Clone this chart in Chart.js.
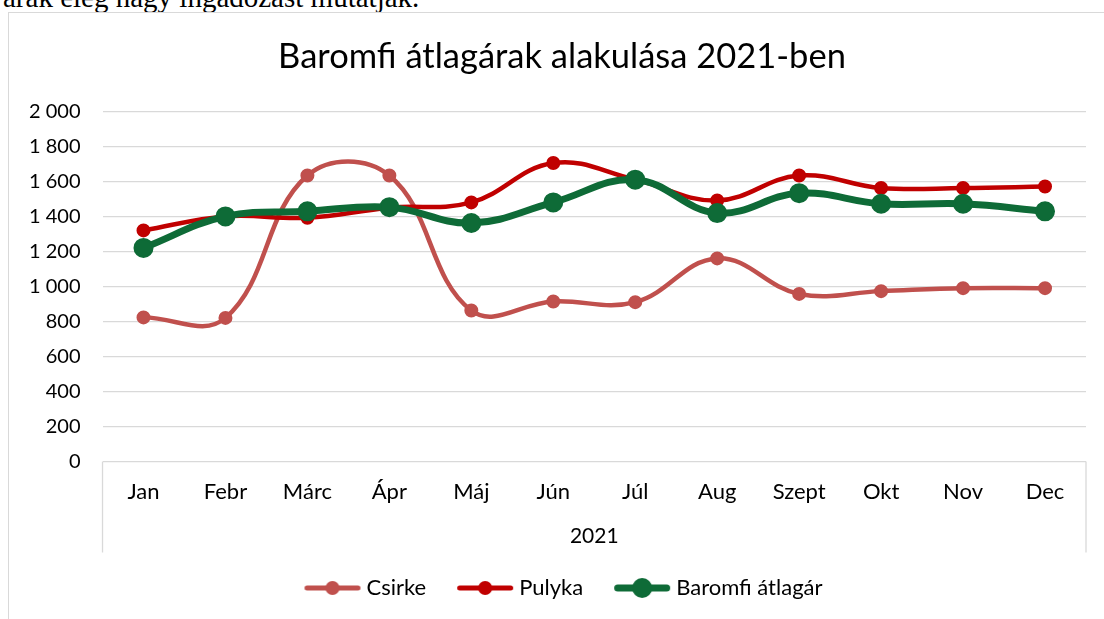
<!DOCTYPE html>
<html>
<head>
<meta charset="utf-8">
<script src="https://cdn.jsdelivr.net/npm/chart.js@4.4.1/dist/chart.umd.min.js"></script>
<style>
  body { margin: 0; background: #fff; overflow: hidden; }
  #doc { position: absolute; left: 3px; top: -19px; font: 29px "Liberation Serif", "Times New Roman", serif; color: #000; white-space: nowrap; }
  #box { position: absolute; left: 8px; top: 12px; width: 1108px; height: 640px; border: 1px solid #d9d9d9; background: #fff; }
</style>
</head>
<body>
<div id="doc">árak elég nagy ingadozást mutatják.</div>
<div id="box"><canvas id="myChart" width="1108" height="640"></canvas></div>
<script>
// values
var months = ["Jan", "Febr", "Márc", "Ápr", "Máj", "Jún", "Júl", "Aug", "Szept", "Okt", "Nov", "Dec"];
var csirke = [823, 820, 1634, 1634, 862, 914, 910, 1160, 957, 973, 990, 990];
var pulyka = [1320, 1400, 1392, 1450, 1480, 1705, 1610, 1491, 1634, 1562, 1562, 1571];
var atlag = [1220, 1400, 1429, 1453, 1362, 1480, 1610, 1419, 1533, 1472, 1472, 1429];
var yearLabel = "2021";

var font = "Lato";

// little line+dot picture for the legend (blank strip on the left = gap before the item)
function legendIcon(color, lw, r) {
  var c = document.createElement("canvas");
  var gap = 8, w = 58;
  c.width = gap + w;
  c.height = r * 2 + 2;
  var g = c.getContext("2d");
  g.strokeStyle = color;
  g.lineWidth = lw;
  g.lineCap = "round";
  g.beginPath();
  g.moveTo(gap + lw / 2 + 1, c.height / 2);
  g.lineTo(c.width - lw / 2 - 1, c.height / 2);
  g.stroke();
  g.fillStyle = color;
  g.beginPath();
  g.arc(gap + w / 2, c.height / 2, r, 0, Math.PI * 2);
  g.fill();
  return c;
}

// long ticks at both ends of the category axis (multi level axis look)
var bracket = {
  id: "bracket",
  afterDraw: function(chart) {
    var ctx = chart.ctx, a = chart.chartArea;
    ctx.save();
    ctx.strokeStyle = "#d9d9d9";
    ctx.lineWidth = 1.3;
    ctx.beginPath();
    [a.left, a.right].forEach(function(x) {
      ctx.moveTo(x, a.bottom);
      ctx.lineTo(x, a.bottom + 91);
    });
    ctx.stroke();
    ctx.restore();
  }
};

var chart = new Chart(document.getElementById("myChart").getContext("2d"), {
  type: "line",
  data: {
    labels: months,
    datasets: [
      {
        label: "Csirke",
        data: csirke,
        borderColor: "#C0504D",
        backgroundColor: "#C0504D",
        borderWidth: 4.5,
        pointRadius: 6,
        pointBorderWidth: 2,
        tension: 0.4,
        order: 3
      },
      {
        label: "Pulyka",
        data: pulyka,
        borderColor: "#C00000",
        backgroundColor: "#C00000",
        borderWidth: 4.5,
        pointRadius: 6,
        pointBorderWidth: 2,
        tension: 0.4,
        order: 2
      },
      {
        label: "Baromfi átlagár",
        data: atlag,
        borderColor: "#0E6B37",
        backgroundColor: "#0E6B37",
        borderWidth: 7,
        pointRadius: 9,
        pointBorderWidth: 2,
        tension: 0.4,
        order: 1
      }
    ]
  },
  options: {
    responsive: false,
    animation: false,
    devicePixelRatio: 1,
    layout: { padding: { left: -2, right: 0, bottom: 44 } },
    scales: {
      x: {
        offset: true,
        grid: { display: false, drawTicks: false },
        border: { display: false },
        ticks: { color: "#000", padding: 17, font: { family: font, size: 22 }, maxRotation: 0 },
        title: { display: true, text: yearLabel, color: "#000", padding: { top: 2, bottom: 0 }, font: { family: font, size: 21 } }
      },
      y: {
        min: 0,
        max: 2000,
        grid: { color: "#d9d9d9", lineWidth: 1.3, drawTicks: false },
        border: { display: false },
        ticks: {
          stepSize: 200,
          padding: 22,
          color: "#000",
          font: { family: font, size: 20 },
          callback: function(v) { return String(v).replace(/\B(?=(\d{3})+(?!\d))/g, " "); }
        }
      },
      // empty right-hand axis, only keeps space on the right of the plot
      yRight: {
        position: "right",
        grid: { display: false },
        border: { display: false },
        ticks: { display: false },
        afterFit: function(s) { s.width = 31; }
      }
    },
    plugins: {
      title: {
        display: true,
        text: "Baromfi átlagárak alakulása 2021-ben",
        color: "#000",
        font: { family: font, size: 34.5, weight: "normal" },
        padding: { top: 23, bottom: 34 }
      },
      legend: {
        position: "bottom",
        labels: {
          color: "#000",
          font: { family: font, size: 22 },
          usePointStyle: true,
          pointStyleWidth: 54,
          padding: 28,
          generateLabels: function(ch) {
            var icons = [legendIcon("#C0504D", 5, 7), legendIcon("#C00000", 5, 7), legendIcon("#0E6B37", 7, 10)];
            return ch.data.datasets.map(function(ds, i) {
              return { text: ds.label, pointStyle: icons[i], fontColor: "#000", datasetIndex: i, lineWidth: 0, strokeStyle: "transparent", fillStyle: "transparent" };
            });
          }
        }
      },
      tooltip: { enabled: false }
    }
  },
  plugins: [bracket]
});
</script>
</body>
</html>
